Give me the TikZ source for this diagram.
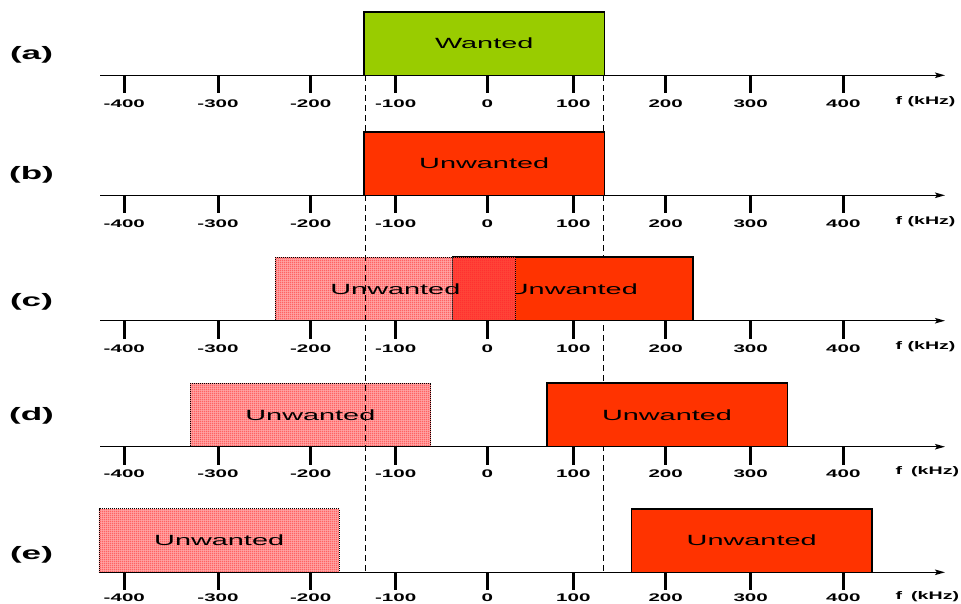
\documentclass[tikz,border=0pt]{standalone}
\usepackage{fontspec}
\setmainfont{Liberation Sans}
\usetikzlibrary{arrows.meta,patterns.meta}
\definecolor{wgreen}{HTML}{99CC00}
\definecolor{ured}{HTML}{FF3300}
\definecolor{hpink}{HTML}{FFA4A4}
\definecolor{hline}{HTML}{FF5C5C}
\definecolor{ovred}{HTML}{FF4538}
\definecolor{ovline}{HTML}{FF3030}
\tikzdeclarepattern{name=finegrid, type=uncolored,
  bounding box={(0pt,0pt) and (2pt,2pt)}, tile size={(2pt,2pt)},
  code={\draw[line width=0.6pt] (0pt,1pt) -- (2pt,1pt) (1pt,0pt) -- (1pt,2pt);}}
\tikzset{
  axisline/.style={line width=1.4pt, -{Stealth[length=10pt,width=5.5pt,inset=2pt]}},
  tickmark/.style={line width=3pt},
  ticklab/.style={inner sep=0pt, font=\bfseries\fontsize{11}{13}\selectfont},
  unitlab/.style={inner sep=0pt, anchor=west, font=\bfseries\fontsize{11}{13}\selectfont},
  rowlab/.style={inner sep=0pt, font=\bfseries\fontsize{18}{20}\selectfont},
  guide/.style={line width=1.1pt, dash pattern=on 6pt off 4pt},
  solidbox/.style={draw=black, line width=1.5pt, fill=ured, minimum width=240.5pt, minimum height=63.5pt, inner sep=0pt, outer sep=0pt},
  wantbox/.style={solidbox, fill=wgreen},
  hatchedge/.style={draw=black, line width=0.8pt, dash pattern=on 1pt off 1pt},
  hatchbox/.style={fill=hpink, minimum width=240.5pt, minimum height=63.5pt, inner sep=0pt, outer sep=0pt,
    postaction={pattern=finegrid, pattern color=hline}, postaction={hatchedge}},
  boxtext/.style={inner sep=0pt, font=\fontsize{14.8}{16}\selectfont},
}
\newcommand{\sx}[2]{\scalebox{#1}[1]{#2}}
\begin{document}
\begin{tikzpicture}[x=1pt,y=-1pt]
\useasboundingbox (0,0) rectangle (961,603);
% hatched (image) boxes
\node[hatchbox] (hc) at (395.35,288.95) {};
\node[hatchbox] (hd) at (310.35,414.95) {};
\node[hatchbox] (he) at (219.15,540.55) {};
% dashed guide lines
\coordinate (g1t) at (365.5,75.3);
\coordinate (g1b) at (365.5,572.3);
\coordinate (g2t) at (603.8,75.3);
\coordinate (g2b) at (603.8,572.3);
\draw[guide] (g1t) -- (g1b);
\draw[guide] (g2t) -- (g2b);
% solid boxes
\node[wantbox] (ba) at (484.2,43.55) {};
\node[solidbox] (bb) at (484.2,163.55) {};
\node[solidbox] (sc) at (572.85,288.95) {};
\node[solidbox] (sd) at (667,414.95) {};
\node[solidbox] (se) at (751.7,540.55) {};
\node[boxtext] (ta) at (ba.center) {\sx{1.95}{Wanted}};
\node[boxtext] (tb) at (bb.center) {\sx{1.95}{Unwanted}};
\node[boxtext] (tsc) at (sc.center) {\sx{1.95}{Unwanted}};
\node[boxtext] (tsd) at (sd.center) {\sx{1.95}{Unwanted}};
\node[boxtext] (tse) at (se.center) {\sx{1.95}{Unwanted}};
% overlap in (c)
\fill[ovred, postaction={pattern=finegrid, pattern color=ovline}] (sc.north west) rectangle (hc.south east);
\draw[line width=1pt, gray!60!black, dash pattern=on 1pt off 1pt] (sc.north west) -- (sc.south west);
\draw[hatchedge] (hc.north east) -- (hc.south east);
\draw[hatchedge] (sc.north west) -- (hc.north east);
% hatched texts
\node[boxtext] (thc) at (hc.center) {\sx{1.95}{Unwanted}};
\node[boxtext] (thd) at (hd.center) {\sx{1.95}{Unwanted}};
\node[boxtext] (the) at (he.center) {\sx{1.95}{Unwanted}};
% axes
\foreach \r/\y/\o/\u in {a/75.3/28/{f (kHz)}, b/195.3/28/{f (kHz)}, c/320.7/28/{f (kHz)}, d/446.7/26.6/{f\kern2pt\ (kHz)}, e/572.3/25.5/{f\kern2pt\ (kHz)}}{
  \coordinate (ax\r0) at (100,\y);
  \coordinate (ax\r1) at (945,\y);
  \draw[axisline] (ax\r0) -- (ax\r1);
  \foreach \v/\x in {-400/124.3, -300/218, -200/310.7, -100/395.7, 0/487.3, 100/573.3, 200/665.7, 300/750.7, 400/843.3}{
    \draw[tickmark] (\x,\y) -- (\x,\y+18);
    \node[ticklab] (tl\r\x) at (\x,\y+\o) {\sx{1.87}{\v}};
  }
  \node[unitlab] (u\r) at (895.5,\y+\o-1.6) {\sx{1.78}{\u}};
}
% row labels
\node[rowlab] (la) at (31.5,55) {\sx{1.95}{(a)}};
\node[rowlab] (lb) at (31.5,175) {\sx{1.95}{(b)}};
\node[rowlab] (lc) at (31.5,302) {\sx{1.95}{(c)}};
\node[rowlab] (ld) at (31.5,416) {\sx{1.95}{(d)}};
\node[rowlab] (le) at (31.5,555) {\sx{1.95}{(e)}};
\end{tikzpicture}
\end{document}
